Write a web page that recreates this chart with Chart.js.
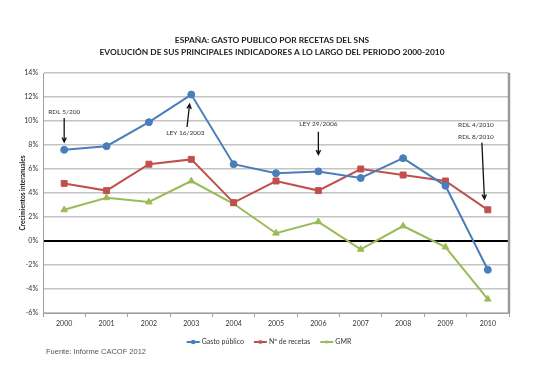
<!DOCTYPE html>
<html>
<head>
<meta charset="utf-8">
<script src="https://cdn.jsdelivr.net/npm/chart.js@4/dist/chart.umd.min.js"></script>
<style>
  html, body { margin: 0; padding: 0; background: #fff; }
  #chart { display: block; }
</style>
</head>
<body>
<canvas id="chart" width="550" height="371"></canvas>
<script>
// Data (interannual growth, %)
const years = ['2000', '2001', '2002', '2003', '2004', '2005', '2006', '2007', '2008', '2009', '2010'];
const gastoPublico = [7.6, 7.9, 9.9, 12.2, 6.4, 5.65, 5.8, 5.25, 6.9, 4.6, -2.4];
const numRecetas = [4.8, 4.2, 6.4, 6.8, 3.2, 5.0, 4.2, 6.0, 5.5, 5.0, 2.6];
const gmr = [2.6, 3.6, 3.25, 5.0, 3.1, 0.65, 1.6, -0.7, 1.25, -0.5, -4.85];

const titleLines = [
    'ESPAÑA: GASTO PUBLICO POR RECETAS DEL SNS',
    'EVOLUCIÓN DE SUS PRINCIPALES INDICADORES A LO LARGO DEL PERIODO 2000-2010'
];
const seriesNames = ['Gasto público', 'Nº de recetas', 'GMR'];
const sourceNote = 'Fuente: Informe CACOF 2012';

// Arrow notes: text lines and arrow ends in data units (category index, %)
const notes = [
    { lines: ['RDL 5/200'], x: 0, y: 10.75, from: [0, 10.25], to: [0, 8.25] },
    { lines: ['LEY 16/2003'], x: 2.86, y: 9.0, from: [2.9, 9.5], to: [2.96, 11.4] },
    { lines: ['LEY 29/2006'], x: 6, y: 9.75, from: [6, 9.1], to: [6, 7.2] },
    { lines: ['RDL 4/2010', 'RDL 8/2010'], x: 9.72, y: 9.7, from: [9.86, 8.2], to: [9.92, 3.5] }
];

const blue = '#4a7ebb';
const red = '#c0504d';
const green = '#9bbb59';
const labelFont = 'Lato, "Open Sans", sans-serif';

// Draws the title, right frame, arrow notes, legend and source line
const extrasPlugin = {
    id: 'extras',
    afterDraw(chart) {
        const ctx = chart.ctx;
        const area = chart.chartArea;
        const xs = chart.scales.x;
        const ys = chart.scales.y;

        ctx.save();
        // two-line title
        ctx.fillStyle = '#222';
        ctx.font = 'bold 8.4px ' + labelFont;
        ctx.textAlign = 'center';
        ctx.textBaseline = 'middle';
        titleLines.forEach((t, i) => ctx.fillText(t, 272, 40 + i * 12));

        // right edge of the plot frame
        ctx.strokeStyle = '#9a9a9a';
        ctx.lineWidth = 2.5;
        ctx.beginPath();
        ctx.moveTo(area.right, area.top);
        ctx.lineTo(area.right, area.bottom);
        ctx.stroke();

        // notes with arrows
        ctx.fillStyle = '#333';
        ctx.font = '6.5px ' + labelFont;
        notes.forEach(n => {
            const tx = xs.getPixelForValue(n.x);
            const ty = ys.getPixelForValue(n.y);
            n.lines.forEach((line, i) => ctx.fillText(line, tx, ty + i * 12));

            const x1 = xs.getPixelForValue(n.from[0]);
            const y1 = ys.getPixelForValue(n.from[1]);
            const x2 = xs.getPixelForValue(n.to[0]);
            const y2 = ys.getPixelForValue(n.to[1]);
            const ang = Math.atan2(y2 - y1, x2 - x1);
            ctx.strokeStyle = '#111';
            ctx.lineWidth = 1.3;
            ctx.beginPath();
            ctx.moveTo(x1, y1);
            ctx.lineTo(x2, y2);
            ctx.moveTo(x2 - 5 * Math.cos(ang - 0.45), y2 - 5 * Math.sin(ang - 0.45));
            ctx.lineTo(x2, y2);
            ctx.lineTo(x2 - 5 * Math.cos(ang + 0.45), y2 - 5 * Math.sin(ang + 0.45));
            ctx.stroke();
        });

        // legend: line with marker, then the name
        ctx.font = '7px ' + labelFont;
        ctx.textAlign = 'left';
        const legendY = 342;
        const gap = 10;
        const widths = seriesNames.map(s => 15 + ctx.measureText(s).width);
        const total = widths.reduce((a, b) => a + b, 0) + gap * (widths.length - 1);
        let lx = 269 - total / 2;
        chart.data.datasets.forEach((ds, i) => {
            ctx.strokeStyle = ds.borderColor;
            ctx.lineWidth = 2;
            ctx.beginPath();
            ctx.moveTo(lx, legendY);
            ctx.lineTo(lx + 13, legendY);
            ctx.stroke();
            ctx.fillStyle = ds.borderColor;
            Chart.helpers.drawPoint(ctx, { pointStyle: ds.pointStyle, radius: 2.3, borderWidth: 0 }, lx + 6.5, legendY);
            ctx.fillStyle = '#333';
            ctx.fillText(seriesNames[i], lx + 15, legendY);
            lx += widths[i] + gap;
        });

        // source line
        ctx.fillStyle = '#555';
        ctx.font = '7.5px "Liberation Sans", Arial, sans-serif';
        ctx.fillText(sourceNote, 46, 352);
        ctx.restore();
    }
};

function makeSeries(label, data, color, style, radius) {
    return {
        label: label,
        data: data,
        borderColor: color,
        backgroundColor: color,
        pointBackgroundColor: color,
        pointBorderColor: color,
        pointStyle: style,
        pointRadius: radius,
        pointBorderWidth: 1,
        borderWidth: 2,
        tension: 0,
        fill: false
    };
}

const chart = new Chart(document.getElementById('chart'), {
    type: 'line',
    data: {
        labels: years,
        datasets: [
            makeSeries(seriesNames[0], gastoPublico, blue, 'circle', 3.5),
            makeSeries(seriesNames[1], numRecetas, red, 'rect', 4.2),
            makeSeries(seriesNames[2], gmr, green, 'triangle', 3.8)
        ]
    },
    options: {
        responsive: false,
        devicePixelRatio: 1,
        animation: false,
        layout: { padding: { top: 73, left: 17, right: 41, bottom: 38 } },
        plugins: {
            legend: { display: false },
            tooltip: { enabled: false },
            title: { display: false }
        },
        scales: {
            x: {
                offset: true,
                grid: {
                    offset: true,
                    drawOnChartArea: false,
                    drawTicks: true,
                    tickLength: 4,
                    color: '#a0a0a0'
                },
                border: { display: true, color: '#a0a0a0' },
                ticks: { color: '#333', font: { family: labelFont, size: 7 }, padding: 3, maxRotation: 0 },
                afterFit: scale => { scale.height = 20; }
            },
            y: {
                min: -6,
                max: 14,
                ticks: {
                    stepSize: 2,
                    color: '#333',
                    font: { family: labelFont, size: 7 },
                    padding: 5,
                    callback: v => v + '%'
                },
                grid: {
                    drawTicks: false,
                    color: c => c.tick.value === 0 ? '#000' : '#c4c4c4',
                    lineWidth: c => c.tick.value === 0 ? 2 : 1.5
                },
                border: { display: true, color: '#a0a0a0' },
                title: {
                    display: true,
                    text: 'Crecimientos interanuales',
                    color: '#222',
                    font: { family: labelFont, size: 6.5, weight: 'bold' },
                    padding: { top: 2, bottom: 2 }
                },
                afterFit: scale => { scale.width = 26; }
            }
        }
    },
    plugins: [extrasPlugin]
});
</script>
</body>
</html>
